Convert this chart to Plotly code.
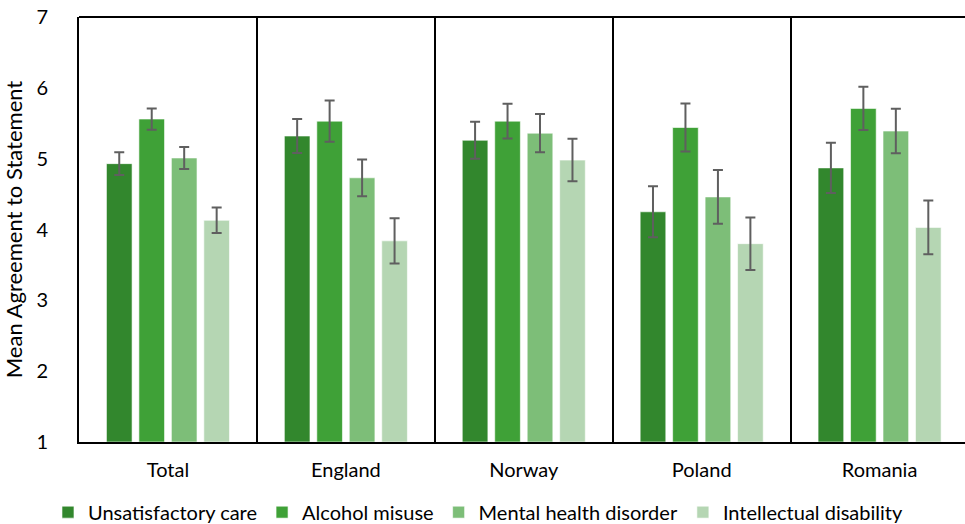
import plotly.graph_objects as go

categories = ["Total", "England", "Norway", "Poland", "Romania"]
series_names = ["Unsatisfactory care", "Alcohol misuse", "Mental health disorder", "Intellectual disability"]

unsatisfactory_care = [4.93, 5.32, 5.26, 4.25, 4.87]
alcohol_misuse = [5.56, 5.53, 5.53, 5.44, 5.71]
mental_health = [5.01, 4.73, 5.36, 4.46, 5.39]
intellectual_disability = [4.13, 3.84, 4.98, 3.80, 4.03]

err_unsatisfactory = [0.16, 0.24, 0.26, 0.36, 0.355]
err_alcohol = [0.15, 0.29, 0.245, 0.34, 0.305]
err_mental = [0.155, 0.26, 0.27, 0.38, 0.315]
err_intellectual = [0.18, 0.32, 0.30, 0.37, 0.38]

colors = ["#32872D", "#3FA137", "#7DBE78", "#B5D6B3"]
values = [unsatisfactory_care, alcohol_misuse, mental_health, intellectual_disability]
errors = [err_unsatisfactory, err_alcohol, err_mental, err_intellectual]

fig = go.Figure()
for name, vals, errs, col in zip(series_names, values, errors, colors):
    fig.add_trace(go.Bar(
        x=categories, y=[v - 1 for v in vals], base=1, name=name,
        marker=dict(color=col, line=dict(color="rgba(255,255,255,0.6)", width=1)),
        error_y=dict(type="data", array=errs, color="#5f5f5f", thickness=2, width=5),
        hoverinfo="skip",
    ))

font = "Lato, Carlito, Calibri, sans-serif"
fig.update_layout(
    width=965, height=524,
    margin=dict(l=79, r=0, t=17, b=82, autoexpand=False),
    paper_bgcolor="white", plot_bgcolor="white",
    barmode="group", bargap=0.27, bargroupgap=0.21,
    font=dict(family=font, size=20, color="#000000"),
    showlegend=True,
    legend=dict(orientation="h", x=-0.035, xanchor="left", y=-0.165, yanchor="middle",
                font=dict(size=20, family=font), traceorder="normal",
                tracegroupgap=0),
    xaxis=dict(type="category", range=[-0.5, 4.48], tickson="boundaries",
               showgrid=True, gridcolor="#000000", gridwidth=2,
               showline=True, linecolor="#000000", linewidth=2, automargin=False,
               ticks="", tickfont=dict(size=20), ticklabelstandoff=9),
    yaxis=dict(range=[1, 7], tickvals=[1, 2, 3, 4, 5, 6, 7], showgrid=False,
               zeroline=False, showline=True, linecolor="#000000", linewidth=2,
               automargin=False, ticks="", tickfont=dict(size=20), ticklabelstandoff=25,
               title=dict(text="Mean Agreement to Statement", font=dict(size=22), standoff=11)),
)
fig.add_shape(type="line", xref="paper", yref="paper", x0=0, x1=1, y0=1, y1=1,
              line=dict(color="#000000", width=2))

fig.write_html("out.html", config={"displayModeBar": False},
               post_script="document.body.style.margin='0';")
